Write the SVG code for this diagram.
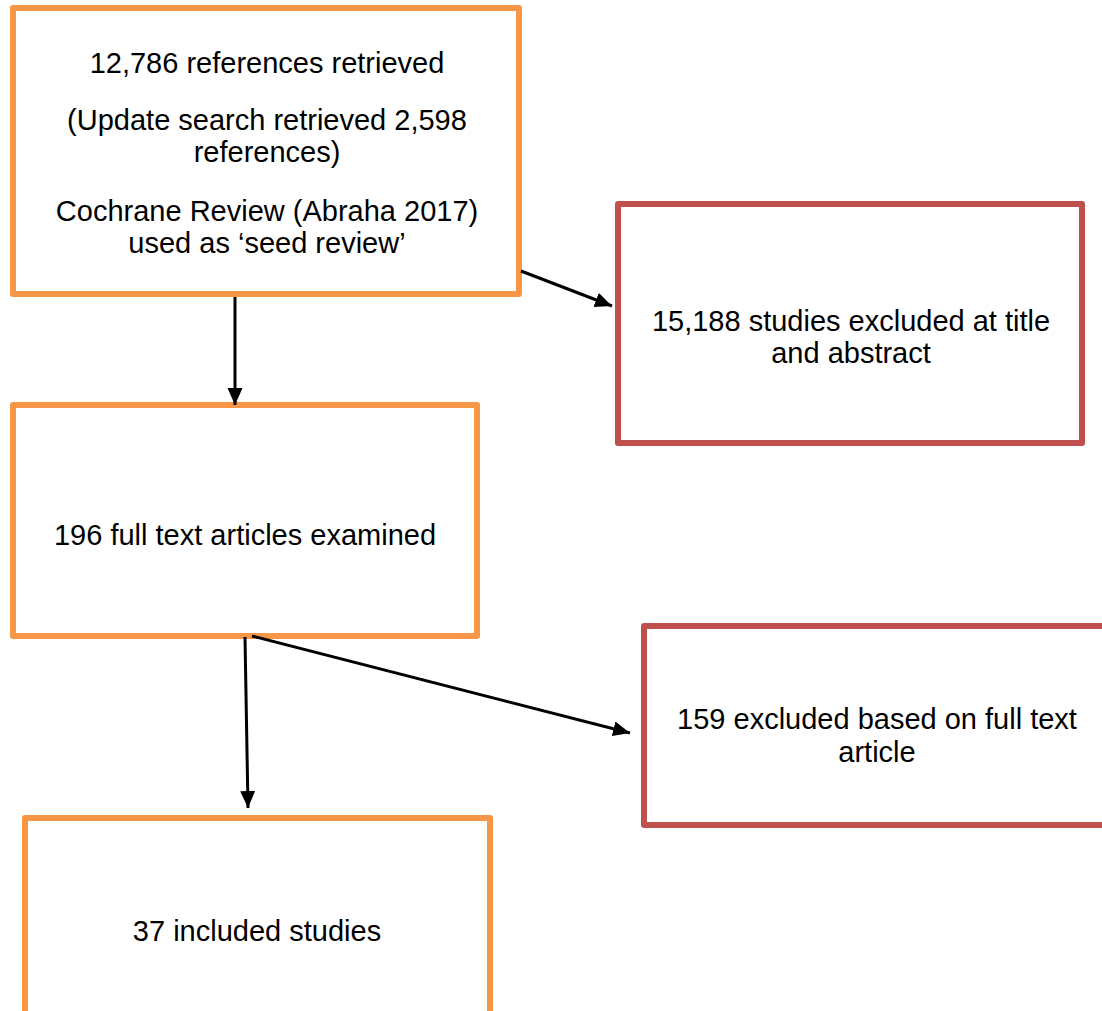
<svg xmlns="http://www.w3.org/2000/svg" width="1102" height="1011" viewBox="0 0 1102 1011">
<style>
.box{fill:#fff;stroke-width:6;stroke-linejoin:round}
.inc{stroke:#F79646}
.exc{stroke:#C0504D}
.t{font-family:"Liberation Sans",Arial,sans-serif;font-size:29px;fill:#000;text-anchor:middle}
.c{stroke:#000;stroke-width:3;fill:none;marker-end:url(#ah)}
</style>
<defs>
<marker id="ah" markerUnits="userSpaceOnUse" markerWidth="18" markerHeight="16" refX="17" refY="7.5" orient="auto">
<path d="M0,0 L17,7.5 L0,15 z" fill="#000"/>
</marker>
</defs>
<rect width="1102" height="1011" fill="#fff"/>
<g id="n1">
<rect class="box inc" x="13" y="8" width="506" height="286"/>
<text class="t" x="267" y="73">12,786 references retrieved</text>
<text class="t" x="267" y="130">(Update search retrieved 2,598</text>
<text class="t" x="267" y="162">references)</text>
<text class="t" x="267" y="221">Cochrane Review (Abraha 2017)</text>
<text class="t" x="267" y="253">used as ‘seed review’</text>
</g>
<g id="n2">
<rect class="box exc" x="618" y="204" width="464" height="239"/>
<text class="t" x="851" y="331">15,188 studies excluded at title</text>
<text class="t" x="851" y="363">and abstract</text>
</g>
<g id="n3">
<rect class="box inc" x="13" y="405" width="464" height="231"/>
<text class="t" x="245" y="545">196 full text articles examined</text>
</g>
<g id="n4">
<rect class="box exc" x="644" y="626" width="466" height="199"/>
<text class="t" x="877" y="729">159 excluded based on full text</text>
<text class="t" x="877" y="762">article</text>
</g>
<g id="n5">
<rect class="box inc" x="25" y="818" width="465" height="220"/>
<text class="t" x="257" y="941">37 included studies</text>
</g>
<g id="connectors">
<line class="c" x1="235" y1="297" x2="235" y2="405"/>
<line class="c" x1="521" y1="271" x2="612" y2="306"/>
<line class="c" x1="245" y1="637" x2="248" y2="808"/>
<line class="c" x1="252" y1="636" x2="630" y2="733"/>
</g>
</svg>
